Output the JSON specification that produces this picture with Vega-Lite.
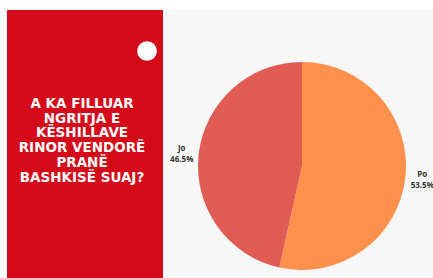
{
  "$schema": "https://vega.github.io/schema/vega-lite/v6.json",
  "background": "white",
  "padding": {"left": 7, "top": 10, "right": 0, "bottom": 0},
  "spacing": 0,
  "config": {"view": {"stroke": null}, "concat": {"spacing": 0}},
  "datasets": {
    "question": [{"question": "A KA FILLUAR\nNGRITJA E\nKËSHILLAVE\nRINOR VENDORË\nPRANË\nBASHKISË SUAJ?"}],
    "answers": [
      {"answer": "Po", "pct": 53.5, "label": "Po\n53.5%"},
      {"answer": "Jo", "pct": 46.5, "label": "Jo\n46.5%"}
    ]
  },
  "hconcat": [
    {
      "width": 156,
      "height": 268,
      "view": {"fill": "#D40A1A", "stroke": null},
      "data": {"name": "question"},
      "layer": [
        {
          "mark": {"type": "point", "filled": true, "color": "white", "opacity": 1, "size": 390, "x": 140, "y": 41},
          "encoding": {}
        },
        {
          "mark": {"type": "text", "lineBreak": "\n", "font": "DejaVu Sans", "fontSize": 13.5, "fontWeight": "bold",
                   "color": "white", "lineHeight": 14.7, "align": "center", "baseline": "middle", "letterSpacing": 1.4,
                   "dx": -3, "dy": -40},
          "encoding": {"text": {"field": "question"}}
        }
      ]
    },
    {
      "width": 270,
      "height": 268,
      "view": {"fill": "#F7F7F7", "stroke": null},
      "data": {"name": "answers"},
      "encoding": {
        "theta": {"field": "pct", "type": "quantitative", "stack": true},
        "order": {"field": "pct", "sort": "descending"}
      },
      "layer": [
        {
          "mark": {"type": "arc", "outerRadius": 104, "x": 139, "y": 156},
          "encoding": {
            "color": {"field": "answer", "type": "nominal", "legend": null,
                      "scale": {"domain": ["Po", "Jo"], "range": ["#FF914D", "#E15B55"]}}
          }
        },
        {
          "mark": {"type": "text", "radius": 121, "x": 139, "y": 156, "dy": -4,
                   "lineBreak": "\n", "font": "Open Sans", "fontSize": 8, "fontWeight": "bold", "color": "#333333",
                   "align": "center", "baseline": "middle", "lineHeight": 11},
          "encoding": {"text": {"field": "label"}}
        }
      ]
    }
  ]
}
